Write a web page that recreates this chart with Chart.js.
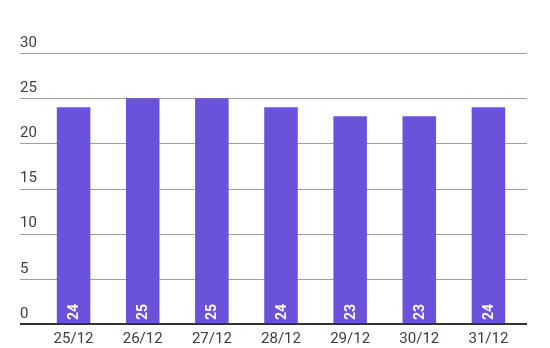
<!DOCTYPE html>
<html>
<head>
<meta charset="utf-8">
<script src="https://cdn.jsdelivr.net/npm/chart.js@4"></script>
<style>
  html, body { margin: 0; padding: 0; background: #fff; }
  #wrap { width: 550px; height: 348px; position: relative; }
</style>
</head>
<body>
<div id="wrap"><canvas id="chart"></canvas></div>
<script>
const days = ['25/12', '26/12', '27/12', '28/12', '29/12', '30/12', '31/12'];
const values = [24, 25, 25, 24, 23, 23, 24];
const yMin = 0;
const yMax = 30;
const yStep = 5;

// gray grid lines (wider than the bar area) plus the dark zero line
const gridLines = {
    id: 'gridLines',
    beforeDatasetsDraw(chart) {
        const ctx = chart.ctx;
        const y = chart.scales.y;
        const left = 20, right = 527;
        ctx.save();
        y.ticks.forEach(t => {
            const py = Math.round(y.getPixelForValue(t.value));
            if (t.value === 0) return;
            ctx.strokeStyle = '#9e9e9e';
            ctx.lineWidth = 1;
            ctx.beginPath();
            ctx.moveTo(left, py + 0.5);
            ctx.lineTo(right, py + 0.5);
            ctx.stroke();
        });
        ctx.restore();
    },
    afterDatasetsDraw(chart) {
        const ctx = chart.ctx;
        const py = chart.scales.y.getPixelForValue(0);
        ctx.save();
        ctx.strokeStyle = '#333';
        ctx.lineWidth = 2;
        ctx.beginPath();
        ctx.moveTo(20, py);
        ctx.lineTo(527, py);
        ctx.stroke();
        ctx.restore();
    }
};

// rotated value labels at the foot of each bar
const barLabels = {
    id: 'barLabels',
    afterDatasetsDraw(chart) {
        const ctx = chart.ctx;
        const meta = chart.getDatasetMeta(0);
        ctx.save();
        ctx.fillStyle = '#fff';
        ctx.font = 'bold 14px Roboto';
        ctx.textAlign = 'left';
        ctx.textBaseline = 'middle';
        meta.data.forEach((bar, i) => {
            ctx.save();
            ctx.translate(bar.x, bar.base - 4);
            ctx.rotate(-Math.PI / 2);
            ctx.fillText(String(values[i]), 0, 1);
            ctx.restore();
        });
        ctx.restore();
    }
};

new Chart(document.getElementById('chart'), {
    type: 'bar',
    data: {
        labels: days,
        datasets: [{
            data: values,
            backgroundColor: '#6b52da',
            borderWidth: 0,
            categoryPercentage: 1,
            barPercentage: 0.485
        }]
    },
    options: {
        responsive: true,
        maintainAspectRatio: false,
        animation: false,
        layout: { padding: { top: 53, left: 20, right: 27, bottom: 0 } },
        plugins: {
            legend: { display: false },
            tooltip: { enabled: false }
        },
        scales: {
            x: {
                grid: { display: false, drawTicks: false },
                border: { display: false },
                ticks: {
                    color: '#3c3c3c',
                    font: { family: 'Roboto', size: 15 },
                    padding: 6,
                    maxRotation: 0
                },
                afterFit(scale) { scale.height = 24; }
            },
            y: {
                min: yMin,
                max: yMax,
                grid: { display: false, drawTicks: false },
                border: { display: false },
                ticks: {
                    stepSize: yStep,
                    color: '#3c3c3c',
                    font: { family: 'Roboto', size: 15 },
                    crossAlign: 'far',
                    labelOffset: -10,
                    padding: 0
                },
                afterFit(scale) { scale.width = 19; }
            }
        }
    },
    plugins: [gridLines, barLabels]
});
</script>
</body>
</html>
